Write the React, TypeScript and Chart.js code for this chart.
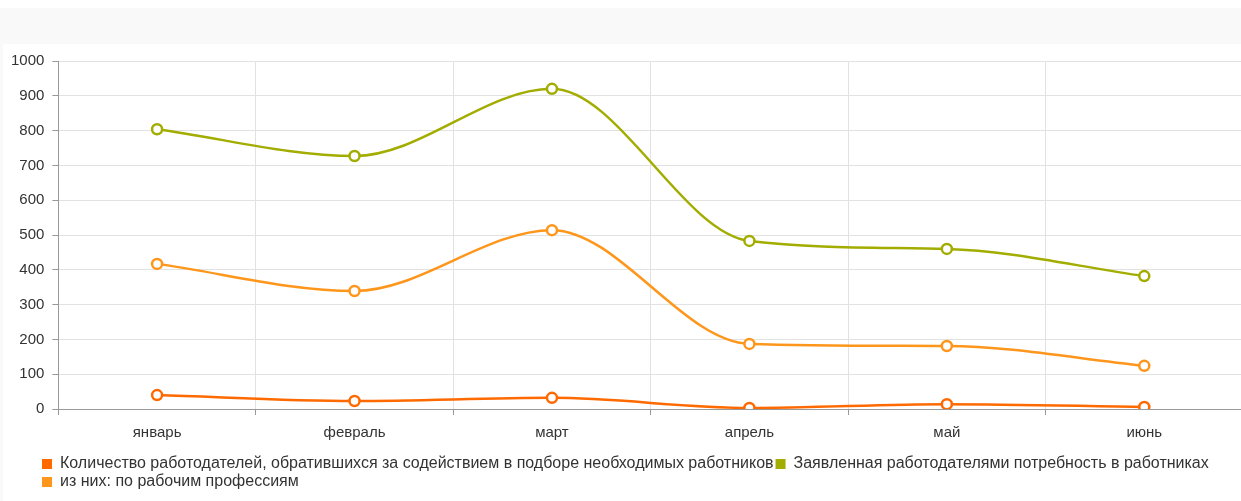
import React, { useEffect, useRef } from "react";
import { Chart, registerables } from "chart.js";

Chart.register(...registerables);

const categories = ["январь", "февраль", "март", "апрель", "май", "июнь"];
const employersCount = [40, 23, 32, 3, 14, 6];
const declaredNeed = [804, 727, 920, 483, 460, 382];
const workingProfessions = [417, 339, 514, 187, 181, 124];
const yTicks = [0, 100, 200, 300, 400, 500, 600, 700, 800, 900, 1000];

const labelEmployers = "Количество работодателей, обратившихся за содействием в подборе необходимых работников";
const labelDeclared = "Заявленная работодателями потребность в работниках";
const labelWorking = "из них: по рабочим профессиям";

const FONT = "'Liberation Sans', Arial, sans-serif";

export default function App() {
  const ref = useRef<HTMLCanvasElement | null>(null);

  useEffect(() => {
    document.body.style.margin = "0";
    document.body.style.overflow = "hidden";
    const canvas = ref.current;
    if (!canvas) return;

    const legendShift = {
      id: "legendShift",
      afterLayout(chart: any) {
        if (chart.legend) {
          chart.legend.left += 37;
        }
      },
    };

    const mk = (label: string, data: number[], color: string) => ({
      label,
      data,
      borderColor: color,
      backgroundColor: color,
      borderWidth: 2.5,
      pointRadius: 5,
      pointBorderWidth: 2.5,
      pointBackgroundColor: "#ffffff",
      pointBorderColor: color,
      cubicInterpolationMode: "monotone" as const,
      fill: false,
    });

    const chart = new Chart(canvas, {
      type: "line",
      data: {
        labels: categories,
        datasets: [
          mk(labelEmployers, employersCount, "#ff6a00"),
          mk(labelDeclared, declaredNeed, "#a2ad00"),
          mk(labelWorking, workingProfessions, "#ff961c"),
        ],
      },
      options: {
        animation: false,
        responsive: false,
        maintainAspectRatio: false,
        layout: { autoPadding: false, padding: { left: 0, top: 17, right: 0, bottom: 1 } },
        plugins: {
          tooltip: { enabled: false },
          legend: {
            position: "bottom",
            align: "start",
            labels: {
              boxWidth: 10,
              boxHeight: 10,
              padding: 2,
              color: "#333333",
              font: { family: FONT, size: 16 },
              generateLabels: (c: any) =>
                c.data.datasets.map((d: any, i: number) => ({
                  text: d.label,
                  fillStyle: d.borderColor,
                  strokeStyle: d.borderColor,
                  lineWidth: 0,
                  hidden: false,
                  datasetIndex: i,
                  fontColor: "#333333",
                })),
            },
          },
        },
        scales: {
          x: {
            offset: true,
            grid: {
              offset: true,
              color: "#e2e2e2",
              tickColor: "#999999",
              tickLength: 6,
            },
            border: { color: "#999999" },
            ticks: {
              color: "#333333",
              padding: 9,
              font: { family: FONT, size: 15 },
            },
            afterFit: (scale: any) => {
              scale.height = 45;
            },
          },
          y: {
            min: 0,
            max: 1000,
            afterBuildTicks: (axis: any) => {
              axis.ticks = yTicks.map((v) => ({ value: v }));
            },
            grid: {
              color: "#e2e2e2",
              tickColor: "#999999",
              tickLength: 6,
            },
            border: { color: "#999999" },
            ticks: {
              color: "#333333",
              padding: 8,
              font: { family: FONT, size: 15 },
              callback: (v: any) => String(v),
            },
          },
        },
      },
      plugins: [legendShift],
    });

    return () => chart.destroy();
  }, []);

  return (
    <div style={{ position: "relative", width: 1241, height: 501, overflow: "hidden", background: "#ffffff" }}>
      <div style={{ position: "absolute", left: 0, top: 8, width: 1241, height: 36, background: "#f9f9f9" }} />
      <div style={{ position: "absolute", left: 0, top: 44, width: 3, height: 457, background: "#f9f9f9" }} />
      <canvas
        ref={ref}
        width={1240}
        height={457}
        style={{ position: "absolute", left: 3, top: 44, width: 1240, height: 457 }}
      />
    </div>
  );
}
